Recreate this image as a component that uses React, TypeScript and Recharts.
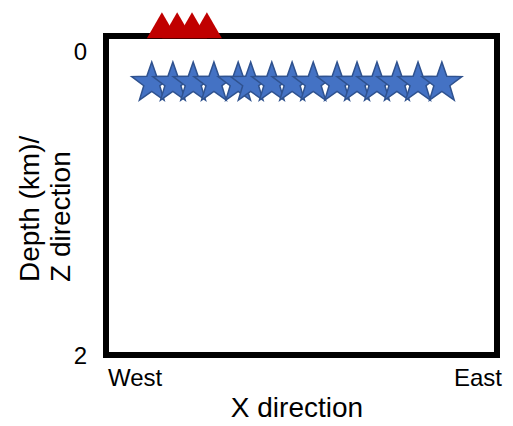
import React from "react";
import { ScatterChart, Scatter, XAxis, YAxis, ReferenceArea, Label } from "recharts";

// station positions (red triangles) along the surface
const stationX = [14.3, 18.2, 22.0, 25.8];
const stationDepth = [-0.17, -0.17, -0.17, -0.17];

// event positions (blue stars)
const eventX = [11.7, 17.1, 22.3, 27.6, 33.8, 37.0, 42.4, 47.6, 53.0, 59.1, 64.2, 69.3, 74.4, 79.8, 85.9];
const eventDepth = [0.21, 0.21, 0.21, 0.21, 0.21, 0.21, 0.21, 0.21, 0.21, 0.21, 0.21, 0.21, 0.21, 0.21, 0.21];

const xTicks = [0, 100];
const xTickLabels = ["West", "East"];
const yTicks = [0, 2];

const stations = stationX.map((x, i) => ({ x, y: stationDepth[i] }));
const events = eventX.map((x, i) => ({ x, y: eventDepth[i] }));

const FONT = "'Liberation Sans', Arial, sans-serif";

const Triangle = (props: any) => {
  const { cx, cy } = props;
  const pts = `${cx},${cy - 13} ${cx + 15},${cy + 13} ${cx - 15},${cy + 13}`;
  return <polygon points={pts} fill="#C00000" />;
};

const Star = (props: any) => {
  const { cx, cy } = props;
  const R = 21;
  const r = R * 0.4;
  const pts: string[] = [];
  for (let i = 0; i < 10; i++) {
    const rad = i % 2 === 0 ? R : r;
    const a = -Math.PI / 2 + (i * Math.PI) / 5;
    pts.push(`${cx + rad * Math.cos(a)},${cy + rad * Math.sin(a)}`);
  }
  return <polygon points={pts.join(" ")} fill="#4472C4" stroke="#2F528F" strokeWidth={1.5} />;
};

const XTick = (props: any) => {
  const { x, y, payload } = props;
  const idx = xTicks.indexOf(payload.value);
  const first = idx === 0;
  return (
    <text
      x={first ? x + 2 : x + 5}
      y={y}
      dy="0.71em"
      textAnchor={first ? "start" : "end"}
      fontSize={24}
      fontFamily={FONT}
      fill="#000"
    >
      {xTickLabels[idx]}
    </text>
  );
};

export default function App() {
  return (
    <div style={{ position: "absolute", left: 0, top: 0 }}>
      <ScatterChart width={513} height={426} margin={{ top: 5.6, right: 16, left: 0, bottom: 0 }}>
        <XAxis
          type="number"
          dataKey="x"
          domain={[0, 100]}
          ticks={xTicks}
          axisLine={false}
          tickLine={false}
          tickMargin={8}
          height={71}
          tick={<XTick />}
        >
          <Label
            content={() => (
              <text x={297} y={417} textAnchor="middle" fontSize={28} fontFamily={FONT} fill="#000">
                X direction
              </text>
            )}
          />
        </XAxis>
        <YAxis
          type="number"
          dataKey="y"
          domain={[-0.3, 2]}
          reversed
          ticks={yTicks}
          axisLine={false}
          tickLine={false}
          tickMargin={13}
          width={106}
          tick={{ fontSize: 24, fill: "#000", fontFamily: FONT }}
        >
          <Label
            content={() => (
              <text
                x={39}
                y={282}
                transform="rotate(-90, 39, 282)"
                textAnchor="start"
                fontSize={28}
                fontFamily={FONT}
                fill="#000"
              >
                <tspan x={39} dy={0}>Depth (km)/</tspan>
                <tspan x={39} dy={31}>Z direction</tspan>
              </text>
            )}
          />
        </YAxis>
        <ReferenceArea x1={0} x2={100} y1={-0.1} y2={2} fill="none" fillOpacity={0} stroke="#000" strokeWidth={6} />
        <Scatter data={events} shape={<Star />} isAnimationActive={false} />
        <Scatter data={stations} shape={<Triangle />} isAnimationActive={false} />
      </ScatterChart>
    </div>
  );
}
